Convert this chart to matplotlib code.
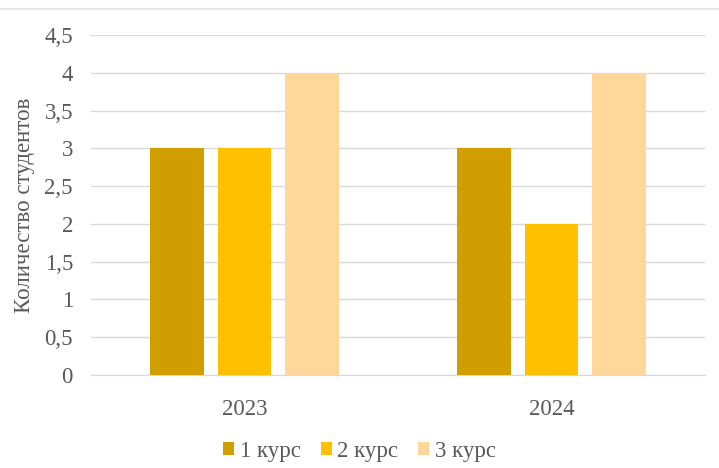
import matplotlib
matplotlib.use("Agg")
from matplotlib import pyplot as plt
from matplotlib.lines import Line2D
import numpy as np

# chart data
years = ["2023", "2024"]
series_names = ["1 курс", "2 курс", "3 курс"]
kurs1 = [3, 3]
kurs2 = [3, 2]
kurs3 = [4, 4]
colors = ["#D19E00", "#FFC000", "#FFD79B"]
yticks = [0, 0.5, 1, 1.5, 2, 2.5, 3, 3.5, 4, 4.5]

plt.rcParams["font.family"] = ["Liberation Serif", "DejaVu Serif"]
text_color = "#595959"
fs = 16.5

fig = plt.figure(figsize=(7.19, 4.68), dpi=100)
ax = fig.add_axes([91 / 719, 1 - 375 / 468, 614 / 719, 340 / 468])

x = np.arange(len(years))
width = 0.173
step = 0.22
for i, (vals, name) in enumerate(zip([kurs1, kurs2, kurs3], series_names)):
    ax.bar(x + (i - 1) * step, vals, width, color=colors[i], label=name, zorder=3)

ax.set_xlim(-0.5, 1.5)
ax.set_ylim(0, 4.5)
ax.set_yticks(yticks)
ax.set_yticklabels([str(t).replace(".", ",") if t % 1 else str(int(t)) for t in yticks])
ax.set_xticks(x)
ax.set_xticklabels(years)
ax.yaxis.grid(True, color="#D9D9D9", linewidth=1, zorder=0)
for s in ["top", "right", "left"]:
    ax.spines[s].set_visible(False)
ax.spines["bottom"].set_color("#D9D9D9")
ax.tick_params(axis="both", length=0, labelsize=fs, colors=text_color)
ax.tick_params(axis="y", pad=13)
ax.tick_params(axis="x", pad=17)
ax.set_ylabel("Количество студентов", fontsize=fs, color=text_color)
ax.yaxis.set_label_coords(-0.091, 0.5)

fig.legend(loc="center", bbox_to_anchor=(0.5, 1 - 451 / 468), ncol=3, frameon=False,
           fontsize=fs, labelcolor=text_color, handlelength=0.48, handleheight=0.48,
           handletextpad=0.25, columnspacing=0.85)

# thin border line at the top
fig.add_artist(Line2D([0, 1], [1 - 9 / 468, 1 - 9 / 468], color="#E6E6E6", linewidth=1.5))

plt.savefig("out.png", dpi=100)
